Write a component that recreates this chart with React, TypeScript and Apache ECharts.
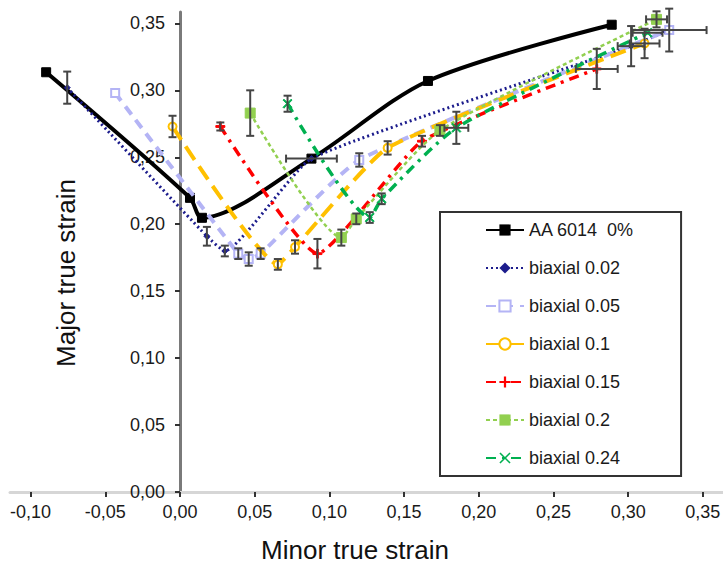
import React, { useEffect, useRef } from "react";
import * as echarts from "echarts";

// ---------- data ----------
const seriesNames = [
  "AA 6014  0%",
  "biaxial 0.02",
  "biaxial 0.05",
  "biaxial 0.1",
  "biaxial 0.15",
  "biaxial 0.2",
  "biaxial 0.24",
];

const minorAA = [-0.0896, 0.0067, 0.0147, 0.088, 0.166, 0.289];
const majorAA = [0.3135, 0.2197, 0.2048, 0.249, 0.307, 0.349];
const xErrAA = [0, 0, 0, 0.017, 0, 0];
const yErrAA = [0, 0, 0, 0, 0, 0];

const minor02 = [-0.0755, 0.018, 0.03, 0.088, 0.302, 0.325];
const major02 = [0.302, 0.191, 0.18, 0.249, 0.333, 0.344];
const xErr02 = [0, 0, 0, 0, 0.009, 0];
const yErr02 = [0.012, 0.007, 0.004, 0, 0.015, 0];

const minor05 = [-0.0434, 0.039, 0.046, 0.054, 0.12, 0.3275];
const major05 = [0.298, 0.178, 0.174, 0.178, 0.248, 0.345];
const xErr05 = [0, 0, 0, 0, 0, 0.025];
const yErr05 = [0, 0.004, 0.005, 0.004, 0.005, 0.016];

const minor10 = [-0.005, 0.0655, 0.077, 0.139, 0.311];
const major10 = [0.273, 0.17, 0.183, 0.257, 0.335];
const xErr10 = [0, 0, 0, 0, 0.01];
const yErr10 = [0.008, 0.004, 0.005, 0.005, 0.011];

const minor15 = [0.027, 0.092, 0.162, 0.279];
const major15 = [0.273, 0.178, 0.262, 0.316];
const xErr15 = [0, 0, 0, 0.014];
const yErr15 = [0.003, 0.011, 0.004, 0.015];

const minor20 = [0.047, 0.108, 0.118, 0.174, 0.319];
const major20 = [0.283, 0.19, 0.204, 0.27, 0.353];
const xErr20 = [0, 0, 0, 0, 0.007];
const yErr20 = [0.017, 0.006, 0.004, 0.004, 0.006];

const minor24 = [0.072, 0.127, 0.135, 0.185, 0.313];
const major24 = [0.29, 0.205, 0.219, 0.272, 0.343];
const xErr24 = [0, 0, 0, 0.008, 0.01];
const yErr24 = [0.006, 0.004, 0.004, 0.012, 0];

const xTicks = [-0.1, -0.05, 0, 0.05, 0.1, 0.15, 0.2, 0.25, 0.3, 0.35];
const yTicks = [0, 0.05, 0.1, 0.15, 0.2, 0.25, 0.3, 0.35];

const xTitle = "Minor true strain";
const yTitle = "Major true strain";

// ---------- styles ----------
const FONT = '"Liberation Sans", Arial, sans-serif';
const PLUS = "path://M4,0H6V4H10V6H6V10H4V6H0V4H4Z";
const CROSS = "path://M1,0L5,4L9,0L10,1L6,5L10,9L9,10L5,6L1,10L0,9L4,5L0,1Z";

const styles = [
  { color: "#000000", width: 4, type: "solid", symbol: "rect", size: 9, smooth: 0.3 },
  { color: "#1c1c8c", width: 3, type: [2, 3], symbol: "diamond", size: 6, smooth: 0.15 },
  { color: "#b4b4f5", width: 4, type: [10, 7], symbol: "emptyRect", size: 8, smooth: 0.15 },
  { color: "#ffc000", width: 4, type: [16, 8], symbol: "emptyCircle", size: 8, smooth: 0.15 },
  { color: "#ff0000", width: 3.5, type: [10, 6, 3, 6], symbol: PLUS, size: 9, smooth: 0.15 },
  { color: "#92d050", width: 2.5, type: [4, 3], symbol: "rect", size: 10, smooth: 0.2 },
  { color: "#00b050", width: 3.5, type: [10, 6, 3, 6], symbol: CROSS, size: 9, smooth: 0.2 },
];

const allX = [minorAA, minor02, minor05, minor10, minor15, minor20, minor24];
const allY = [majorAA, major02, major05, major10, major15, major20, major24];
const allXE = [xErrAA, xErr02, xErr05, xErr10, xErr15, xErr20, xErr24];
const allYE = [yErrAA, yErr02, yErr05, yErr10, yErr15, yErr20, yErr24];

const fmt = (v: number) => v.toFixed(2).replace(".", ",");

export default function App() {
  const ref = useRef<HTMLDivElement>(null);
  useEffect(() => {
    if (!ref.current) return;
    const chart = echarts.init(ref.current, undefined, { renderer: "svg" });

    const lineSeries = seriesNames.map((name, i) => {
      const s = styles[i];
      return {
        name,
        type: "line",
        data: allX[i].map((x, j) => [x, allY[i][j]]),
        smooth: s.smooth,
        symbol: s.symbol,
        symbolSize: s.size,
        showSymbol: true,
        lineStyle: { color: s.color, width: s.width, type: s.type },
        itemStyle: { color: s.color, borderColor: s.color },
        z: 2 + i * 0.01,
      };
    });

    const errData: number[][] = [];
    allX.forEach((xs, i) =>
      xs.forEach((x, j) => {
        const xe = allXE[i][j];
        const ye = allYE[i][j];
        if (xe > 0 || ye > 0) errData.push([x, allY[i][j], xe, ye]);
      })
    );

    const errSeries = {
      type: "custom",
      name: "errors",
      silent: true,
      z: 5,
      encode: { x: 0, y: 1 },
      data: errData,
      renderItem: (params: any, api: any) => {
        const x = api.value(0);
        const y = api.value(1);
        const xe = api.value(2);
        const ye = api.value(3);
        const children: any[] = [];
        const st = { stroke: "#454545", lineWidth: 2 };
        const cap = 4;
        if (ye > 0) {
          const t = api.coord([x, y + ye]);
          const b = api.coord([x, y - ye]);
          children.push({ type: "line", shape: { x1: t[0], y1: t[1], x2: b[0], y2: b[1] }, style: st });
          children.push({ type: "line", shape: { x1: t[0] - cap, y1: t[1], x2: t[0] + cap, y2: t[1] }, style: st });
          children.push({ type: "line", shape: { x1: b[0] - cap, y1: b[1], x2: b[0] + cap, y2: b[1] }, style: st });
        }
        if (xe > 0) {
          const l = api.coord([x - xe, y]);
          const r = api.coord([x + xe, y]);
          children.push({ type: "line", shape: { x1: l[0], y1: l[1], x2: r[0], y2: r[1] }, style: st });
          children.push({ type: "line", shape: { x1: l[0], y1: l[1] - cap, x2: l[0], y2: l[1] + cap }, style: st });
          children.push({ type: "line", shape: { x1: r[0], y1: r[1] - cap, x2: r[0], y2: r[1] + cap }, style: st });
        }
        return { type: "group", children };
      },
    };

    chart.setOption({
      animation: false,
      backgroundColor: "#ffffff",
      textStyle: { fontFamily: FONT },
      grid: { left: 10, right: 0, top: 12, bottom: 72, containLabel: false, outerBoundsMode: "none" },
      xAxis: {
        type: "value",
        min: -0.1138,
        max: 0.3635,
        axisLine: { show: true, onZero: true, lineStyle: { color: "#d6d6d6", width: 3 } },
        axisTick: {
          show: true,
          customValues: xTicks,
          length: 5,
          lineStyle: { color: "#333333", width: 2 },
        },
        axisLabel: {
          customValues: xTicks,
          formatter: fmt,
          fontSize: 18,
          color: "#1a1a1a",
          fontFamily: FONT,
          margin: 11,
        },
        splitLine: { show: false },
      },
      yAxis: {
        type: "value",
        min: 0,
        max: 0.3585,
        axisLine: { show: true, onZero: true, lineStyle: { color: "#7a7a7a", width: 3 } },
        axisTick: {
          show: true,
          customValues: yTicks,
          length: 5,
          lineStyle: { color: "#333333", width: 2 },
        },
        axisLabel: {
          customValues: yTicks,
          formatter: fmt,
          fontSize: 18,
          color: "#1a1a1a",
          fontFamily: FONT,
          margin: -155,
        },
        splitLine: { show: false },
      },
      legend: {
        data: seriesNames,
        orient: "vertical",
        left: 440,
        top: 212,
        padding: [8, 47, 8, 45],
        itemGap: 18,
        itemWidth: 38,
        itemHeight: 14,
        borderColor: "#333333",
        borderWidth: 2,
        backgroundColor: "#ffffff",
        textStyle: { fontSize: 18, color: "#1a1a1a", fontFamily: FONT, lineHeight: 20 },
      },
      graphic: [
        {
          type: "text",
          x: 355,
          y: 550,
          style: {
            text: xTitle,
            fontSize: 26,
            fontFamily: FONT,
            fill: "#111111",
            textAlign: "center",
            textVerticalAlign: "middle",
          },
        },
        {
          type: "text",
          x: 66,
          y: 273,
          rotation: Math.PI / 2,
          style: {
            text: yTitle,
            fontSize: 26,
            fontFamily: FONT,
            fill: "#111111",
            textAlign: "center",
            textVerticalAlign: "middle",
          },
        },
      ],
      series: [...lineSeries, errSeries],
    });

    return () => chart.dispose();
  }, []);

  return (
    <div
      ref={ref}
      style={{ position: "fixed", left: 0, top: 0, width: 723, height: 564, background: "#fff" }}
    />
  );
}
